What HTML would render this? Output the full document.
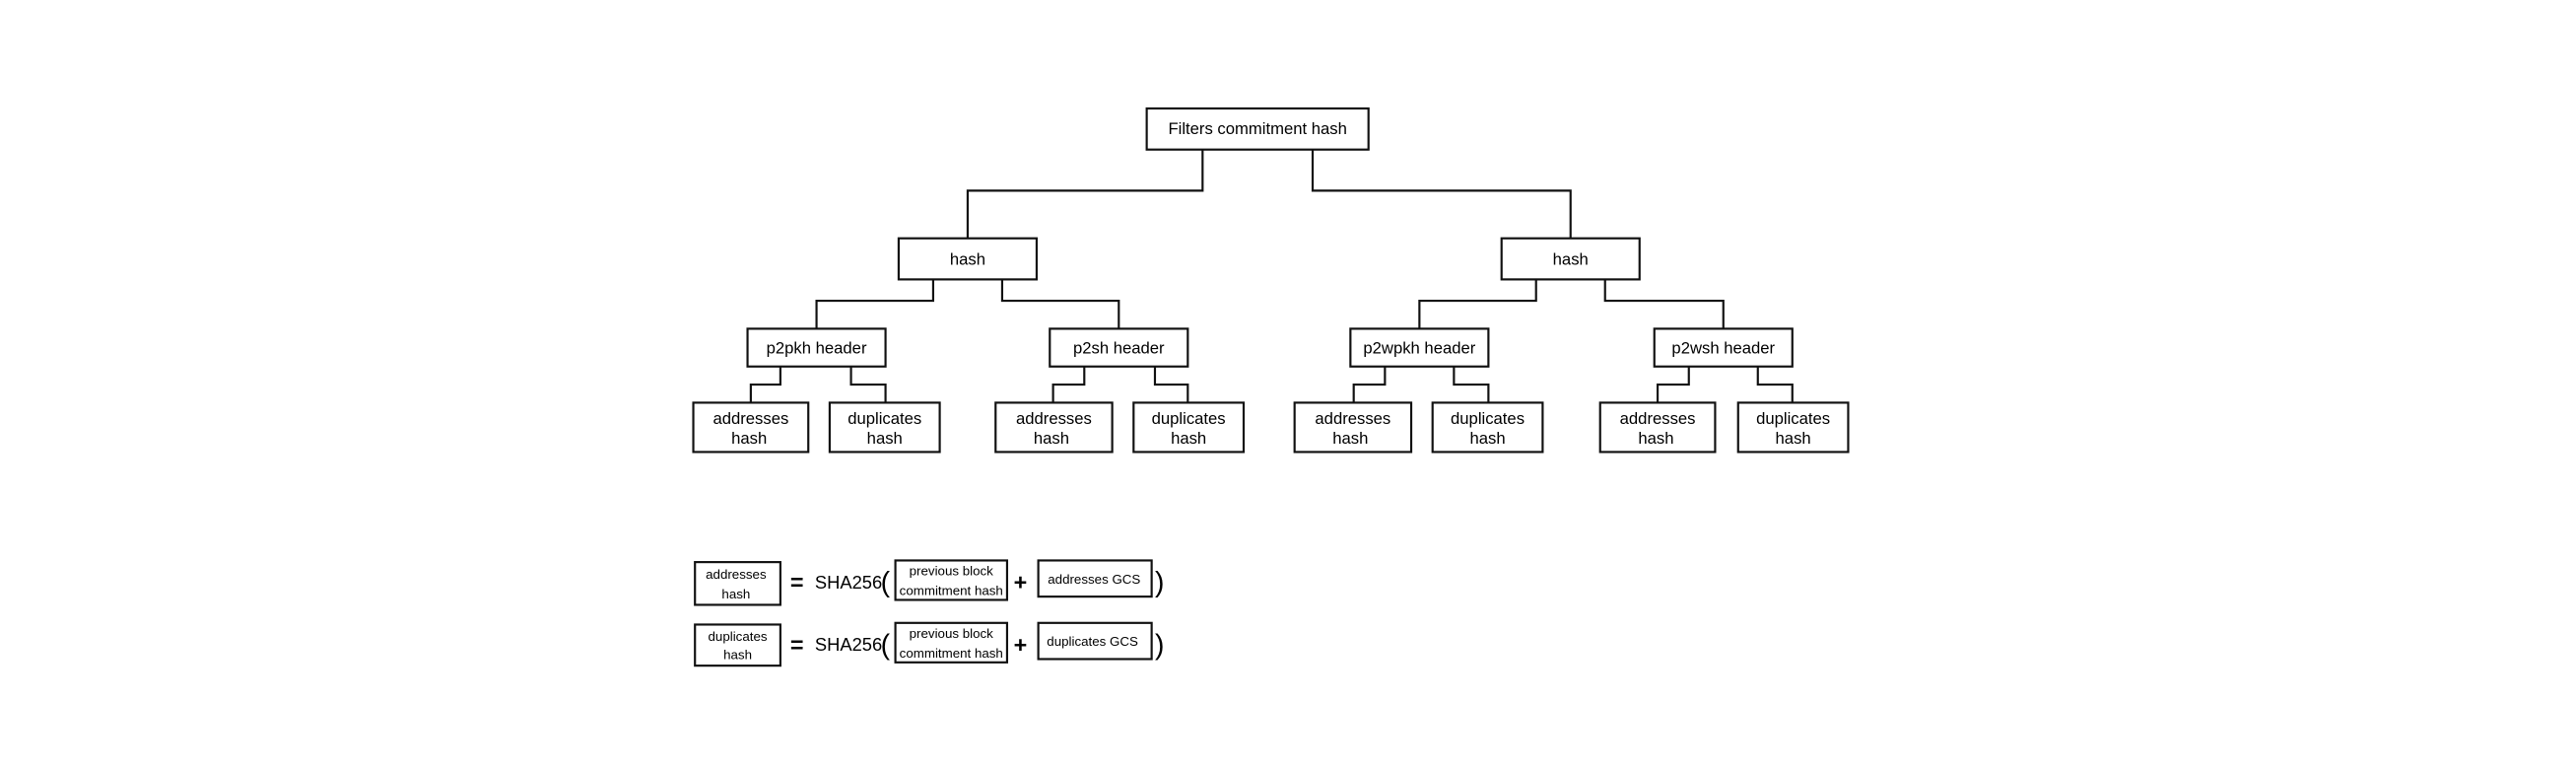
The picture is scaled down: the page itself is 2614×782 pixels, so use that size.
<!DOCTYPE html>
<html><head><meta charset="utf-8"><style>
html,body{margin:0;padding:0;background:#fff;}
svg{display:block}
text{font-family:"Liberation Sans",Arial,sans-serif;fill:#000;}
</style></head><body>
<svg width="2614" height="782" viewBox="0 0 1568 469.1" xmlns="http://www.w3.org/2000/svg">
<g fill="none" stroke="#111" stroke-width="1.3">
<rect x="698" y="66" width="135" height="25" fill="#fff"/>
<polyline points="732,91 732,116 589,116 589,145"/>
<polyline points="799,91 799,116 956,116 956,145"/>
<rect x="547" y="145" width="84" height="25"/>
<rect x="914" y="145" width="84" height="25"/>
<polyline points="568,170 568,183 497,183 497,200"/>
<polyline points="610,170 610,183 681,183 681,200"/>
<polyline points="935,170 935,183 864,183 864,200"/>
<polyline points="977,170 977,183 1049,183 1049,200"/>
<rect x="455" y="200" width="84" height="23"/>
<rect x="639" y="200" width="84" height="23"/>
<rect x="822" y="200" width="84" height="23"/>
<rect x="1007" y="200" width="84" height="23"/>
<polyline points="475,223 475,234 457,234 457,245"/>
<polyline points="518,223 518,234 539,234 539,245"/>
<polyline points="660,223 660,234 641,234 641,245"/>
<polyline points="703,223 703,234 723,234 723,245"/>
<polyline points="843,223 843,234 824,234 824,245"/>
<polyline points="885,223 885,234 906,234 906,245"/>
<polyline points="1028,223 1028,234 1009,234 1009,245"/>
<polyline points="1070,223 1070,234 1091,234 1091,245"/>
<rect x="422" y="245" width="70" height="30"/>
<rect x="505" y="245" width="67" height="30"/>
<rect x="606" y="245" width="71" height="30"/>
<rect x="690" y="245" width="67" height="30"/>
<rect x="788" y="245" width="71" height="30"/>
<rect x="872" y="245" width="67" height="30"/>
<rect x="974" y="245" width="70" height="30"/>
<rect x="1058" y="245" width="67" height="30"/>
<rect x="423" y="342" width="52" height="26"/>
<rect x="545" y="341" width="68" height="24"/>
<rect x="632" y="341" width="69" height="22"/>
<rect x="423" y="380" width="52" height="25"/>
<rect x="545" y="379" width="68" height="24"/>
<rect x="632" y="379" width="69" height="22"/>
</g>
<g font-size="10" text-anchor="middle">
<text x="765.5" y="81.5">Filters commitment hash</text>
<text x="589" y="161">hash</text>
<text x="956" y="161">hash</text>
<text x="497" y="215">p2pkh header</text>
<text x="681" y="215">p2sh header</text>
<text x="864" y="215">p2wpkh header</text>
<text x="1049" y="215">p2wsh header</text>
<text x="457" y="258">addresses</text><text x="456" y="270">hash</text>
<text x="538.5" y="258">duplicates</text><text x="538.5" y="270">hash</text>
<text x="641.5" y="258">addresses</text><text x="640" y="270">hash</text>
<text x="723.5" y="258">duplicates</text><text x="723.5" y="270">hash</text>
<text x="823.5" y="258">addresses</text><text x="822" y="270">hash</text>
<text x="905.5" y="258">duplicates</text><text x="905.5" y="270">hash</text>
<text x="1009" y="258">addresses</text><text x="1008" y="270">hash</text>
<text x="1091.5" y="258">duplicates</text><text x="1091.5" y="270">hash</text>
</g>
<g font-size="8" text-anchor="middle">
<text x="448" y="352">addresses</text><text x="448" y="364">hash</text>
<text x="579" y="350">previous block</text><text x="579" y="362">commitment hash</text>
<text x="666" y="355">addresses GCS</text>
<text x="449" y="390">duplicates</text><text x="449" y="401">hash</text>
<text x="579" y="388">previous block</text><text x="579" y="400">commitment hash</text>
<text x="665" y="393">duplicates GCS</text>
</g>
<g font-size="11">
<text x="496" y="358">SHA256</text>
<text x="496" y="396">SHA256</text>
</g>
<g font-size="14" font-weight="bold">
<text x="481" y="359">=</text><text x="481" y="397">=</text>
<text x="617" y="359">+</text><text x="617" y="397">+</text>
</g>
<g font-size="17">
<text x="536" y="360">(</text><text x="703" y="360">)</text>
<text x="536" y="398">(</text><text x="703" y="398">)</text>
</g>
</svg>
</body></html>
